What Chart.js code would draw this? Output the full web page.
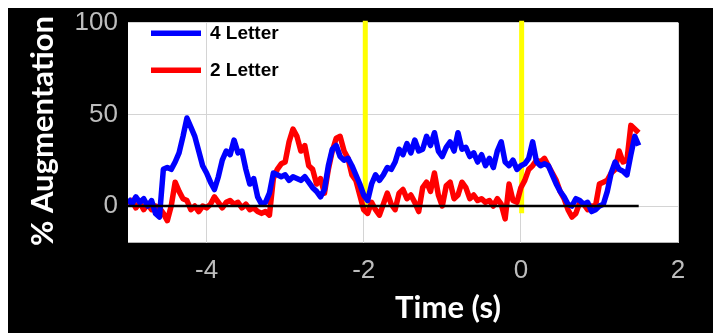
<!DOCTYPE html>
<html>
<head>
<meta charset="utf-8">
<script src="https://cdn.jsdelivr.net/npm/chart.js@4.4.1/dist/chart.umd.min.js"></script>
<style>
  html, body { margin: 0; padding: 0; background: #fff; }
  #wrap { position: absolute; left: 8px; top: 8px; width: 705px; height: 325px; background: #000; }
</style>
</head>
<body>
<div id="wrap"><canvas id="chart" width="705" height="325"></canvas></div>
<script>
// time axis (s), sampled every 0.05 s
const times = [
  -5.00, -4.95, -4.90, -4.85, -4.80, -4.75, -4.70, -4.65, -4.60, -4.55,
  -4.50, -4.45, -4.40, -4.35, -4.30, -4.25, -4.20, -4.15, -4.10, -4.05,
  -4.00, -3.95, -3.90, -3.85, -3.80, -3.75, -3.70, -3.65, -3.60, -3.55,
  -3.50, -3.45, -3.40, -3.35, -3.30, -3.25, -3.20, -3.15, -3.10, -3.05,
  -3.00, -2.95, -2.90, -2.85, -2.80, -2.75, -2.70, -2.65, -2.60, -2.55,
  -2.50, -2.45, -2.40, -2.35, -2.30, -2.25, -2.20, -2.15, -2.10, -2.05,
  -2.00, -1.95, -1.90, -1.85, -1.80, -1.75, -1.70, -1.65, -1.60, -1.55,
  -1.50, -1.45, -1.40, -1.35, -1.30, -1.25, -1.20, -1.15, -1.10, -1.05,
  -1.00, -0.95, -0.90, -0.85, -0.80, -0.75, -0.70, -0.65, -0.60, -0.55,
  -0.50, -0.45, -0.40, -0.35, -0.30, -0.25, -0.20, -0.15, -0.10, -0.05,
   0.00,  0.05,  0.10,  0.15,  0.20,  0.25,  0.30,  0.35,  0.40,  0.45,
   0.50,  0.55,  0.60,  0.65,  0.70,  0.75,  0.80,  0.85,  0.90,  0.95,
   1.00,  1.05,  1.10,  1.15,  1.20,  1.25,  1.30,  1.35,  1.40,  1.45,
   1.50
];

// % augmentation, 4 letter condition (blue)
const fourLetter = [
   4,  1,  5,  2,  4,  0,  3, -4, -6, 20,
  21, 20, 24, 29, 38, 48, 43, 38, 30, 22,
  18, 13,  9, 16, 25, 30, 28, 36, 29, 30,
  20, 12, 15,  5,  1,  2,  7, 18, 17, 16,
  17, 14, 16, 15, 14, 16, 13, 10,  8,  5,
   9, 22, 31, 33, 27, 25, 26, 22, 17, 12,
   6,  3, 12, 17, 14, 17, 21, 20, 24, 31,
  28, 34, 29, 36, 30, 31, 38, 33, 40, 30,
  27, 32, 35, 30, 40, 31, 32, 27, 29, 24,
  28, 22, 26, 21, 30, 35, 24, 22, 25, 20,
  22, 23, 26, 35, 24, 22, 23, 22, 17, 12,
   8,  5,  1,  0,  4,  3,  1,  2, -3, -2,
   0,  1,  8, 18, 24, 20, 19, 17, 28, 38,
  33
];

// % augmentation, 2 letter condition (red)
const twoLetter = [
   1,  3, -1,  2, -2,  1, -2,  0, -1, -4,
  -8,  0, 13,  8,  4,  3, -2,  0, -3,  0,
  -1,  1,  5,  2, -1,  2,  3,  1,  2, -1,
   1, -2, -1, -3, -4, -3, -5, 15, 20, 23,
  24, 35, 42, 38, 30, 33, 22, 20, 12, 15,
   7, 20, 30, 37, 38, 30, 26, 17, 14,  6,
  -2, -4,  2, -2, -5,  1,  7,  1, -2,  7,
   9,  4,  6,  2, -3, 10, 13,  8, 18,  6,
   0, 11, 13,  4,  6, 13, 10,  4,  6,  3,
   4,  2,  3,  0,  4,  1, -7, 12,  3,  2,
  10, 14, 20, 22, 25, 24, 26, 22, 18, 14,
   8,  4, -2, -6, -4,  2,  1, -2,  0,  0,
  12, 13, 14, 18, 20, 30, 24, 25, 44, 42,
  40
];

const seriesNames = ['4 Letter', '2 Letter'];
const seriesColors = ['#0000ff', '#ff0000'];
const eventTimes = [-1.98, 0.01];      // yellow markers
const baselineSpan = [-5, 1.5];        // black zero line
const xTickValues = [-4, -2, 0, 2];
const yTickValues = [0, 50, 100];

const pts = vals => vals.map((v, i) => ({ x: times[i], y: v }));

const datasets = [
  { data: baselineSpan.map(x => ({ x, y: 0 })), borderColor: '#000', borderWidth: 2.5 },
  { label: seriesNames[0], data: pts(fourLetter), borderColor: seriesColors[0], borderWidth: 5.5 },
  { label: seriesNames[1], data: pts(twoLetter), borderColor: seriesColors[1], borderWidth: 5.5 }
];
eventTimes.forEach(t => {
  datasets.push({ data: [{ x: t, y: -4 }, { x: t, y: 101 }], borderColor: '#ffff00', borderWidth: 5, clip: false });
});

// white plot background, inner legend and axis titles
const decor = {
  id: 'decor',
  beforeDraw(chart) {
    const { ctx, chartArea: a } = chart;
    ctx.save();
    ctx.fillStyle = '#fff';
    ctx.fillRect(a.left, a.top, a.right - a.left, a.bottom - a.top);
    ctx.restore();
  },
  afterDraw(chart) {
    const { ctx, chartArea: a } = chart;
    ctx.save();
    // legend
    ctx.font = 'bold 19px "Liberation Sans", Arial';
    ctx.textBaseline = 'middle';
    ctx.lineCap = 'butt';
    seriesNames.forEach((name, i) => {
      const y = a.top + 10.5 + i * 37;
      ctx.strokeStyle = seriesColors[i];
      ctx.lineWidth = 5.5;
      ctx.beginPath();
      ctx.moveTo(a.left + 23, y);
      ctx.lineTo(a.left + 73, y);
      ctx.stroke();
      ctx.fillStyle = '#000';
      ctx.fillText(name, a.left + 82, y + 1);
    });
    // axis titles
    ctx.fillStyle = '#fff';
    ctx.font = 'bold 31px Lato, "Open Sans", sans-serif';
    ctx.textAlign = 'center';
    ctx.textBaseline = 'middle';
    ctx.fillText('Time (s)', 440, 300);
    ctx.translate(35, 123);
    ctx.rotate(-Math.PI / 2);
    ctx.fillText('% Augmentation', 0, 0);
    ctx.restore();
  }
};

new Chart(document.getElementById('chart'), {
  type: 'line',
  data: { datasets },
  options: {
    responsive: false,
    animation: false,
    devicePixelRatio: 1,
    layout: { padding: { left: 0, top: 14.7, right: 35, bottom: 0 } },
    elements: { point: { radius: 0 }, line: { tension: 0, borderJoinStyle: 'round' } },
    plugins: { legend: { display: false }, tooltip: { enabled: false } },
    scales: {
      x: {
        type: 'linear', min: -5, max: 2,
        afterBuildTicks: s => { s.ticks = xTickValues.map(v => ({ value: v })); },
        afterFit: s => { s.height = 90.3; s.paddingLeft = 0; s.paddingRight = 0; },
        grid: { color: '#d4d4d4', lineWidth: 1, drawTicks: false },
        border: { display: false },
        ticks: { color: '#bdbdbd', padding: 13, font: { family: '"Liberation Sans", Arial', size: 26 } }
      },
      y: {
        min: -20, max: 100,
        afterBuildTicks: s => { s.ticks = yTickValues.map(v => ({ value: v })); },
        afterFit: s => { s.width = 120; s.paddingTop = 0; s.paddingBottom = 0; },
        grid: { color: '#d4d4d4', lineWidth: 1, drawTicks: false },
        border: { display: false },
        ticks: { color: '#bdbdbd', padding: 10, font: { family: '"Liberation Sans", Arial', size: 26 } }
      }
    }
  },
  plugins: [decor]
});
</script>
</body>
</html>
